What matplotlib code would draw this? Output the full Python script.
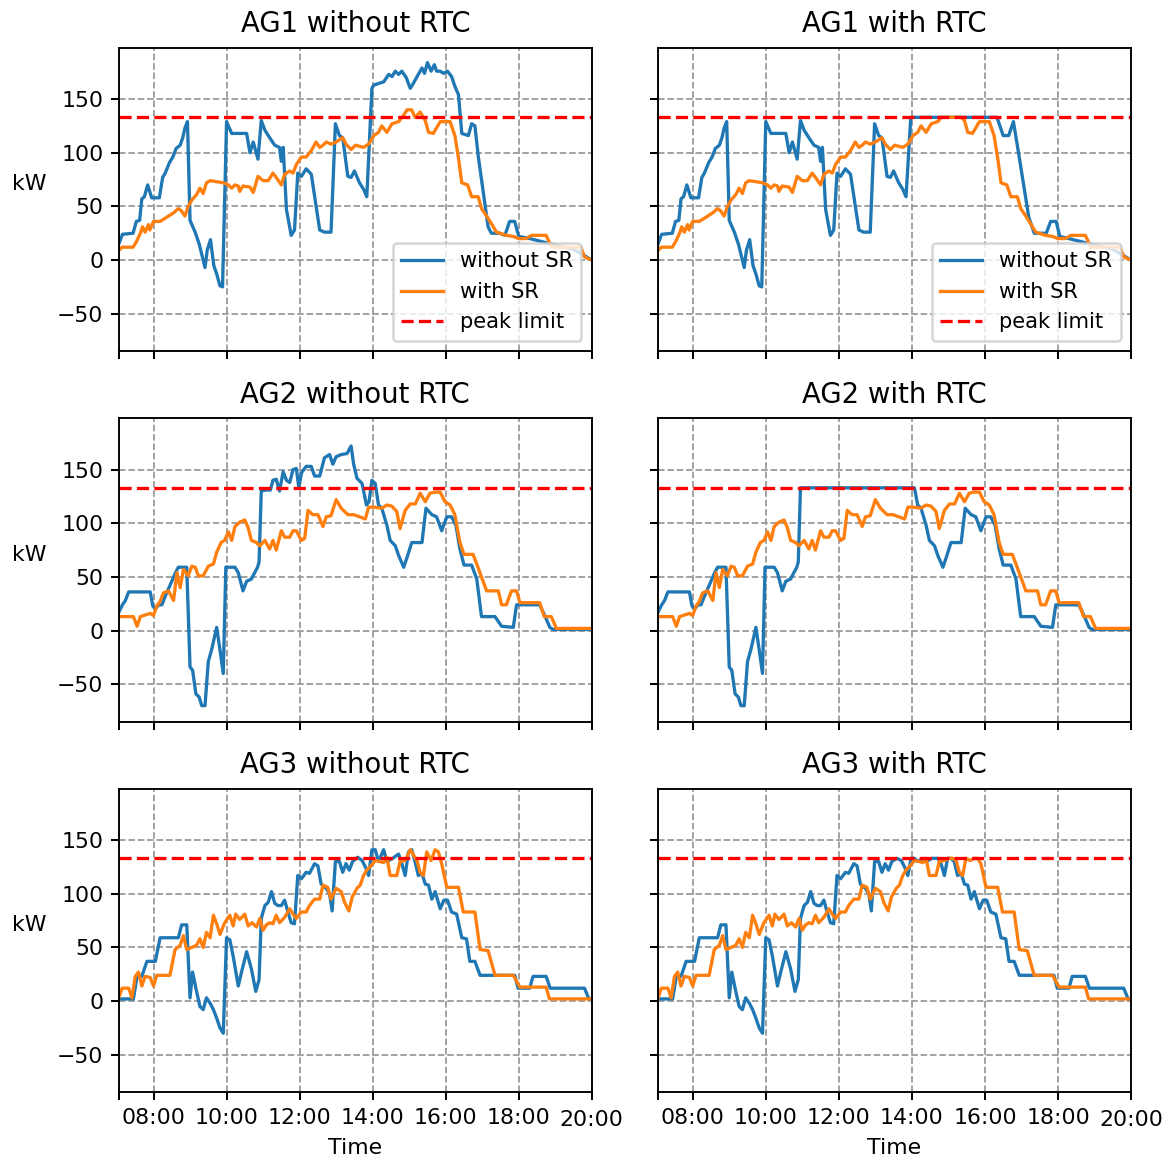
import numpy as np
import matplotlib
matplotlib.use("Agg")
import matplotlib.pyplot as plt

plt.rcParams["font.size"] = 8.7
plt.rcParams["axes.titlesize"] = 10.9
plt.rcParams["legend.fontsize"] = 8.3
plt.rcParams["lines.linewidth"] = 1.3
plt.rcParams["axes.linewidth"] = 0.75
plt.rcParams["xtick.major.size"] = 3.1
plt.rcParams["ytick.major.size"] = 3.1
plt.rcParams["xtick.major.pad"] = 3.0
plt.rcParams["ytick.major.pad"] = 3.0

# peak limit (kW)
peak_limit = 133

# ---- AG1 ---- (hour, kW) points
ag1_sr0_early = [(7.05, 15), (7.15, 24), (7.44, 25), (7.53, 36), (7.62, 37), (7.68, 57), (7.75, 59), (7.84, 70),
                 (7.95, 58), (8.16, 58), (8.25, 77), (8.32, 81), (8.44, 91), (8.53, 96), (8.62, 104), (8.73, 107),
                 (8.8, 114), (8.86, 123), (8.93, 129), (9.0, 37), (9.14, 26), (9.25, 15), (9.41, -7), (9.47, 9),
                 (9.56, 19), (9.65, -5), (9.73, -13), (9.82, -24), (9.89, -25), (10.0, 129), (10.14, 118),
                 (10.55, 118), (10.64, 100), (10.73, 110), (10.86, 94), (10.95, 130), (11.05, 121), (11.18, 114),
                 (11.32, 107), (11.45, 105), (11.5, 92), (11.55, 105), (11.64, 47), (11.77, 23), (11.86, 28),
                 (11.95, 81), (12.05, 78), (12.18, 85), (12.32, 80), (12.55, 28), (12.68, 26), (12.86, 26),
                 (12.98, 127), (13.09, 116), (13.18, 114), (13.32, 78), (13.41, 77), (13.5, 83), (13.64, 72),
                 (13.75, 66), (13.84, 59)]
ag1_sr0_late = [(13.98, 160), (14.03, 163), (14.2, 165), (14.3, 166), (14.44, 173), (14.53, 171), (14.62, 176),
                (14.71, 173), (14.8, 176), (14.92, 170), (15.03, 160), (15.12, 165), (15.25, 173), (15.35, 179),
                (15.42, 174), (15.5, 184), (15.6, 176), (15.69, 182), (15.75, 176), (15.85, 176), (15.94, 174),
                (16.05, 176), (16.16, 171), (16.25, 162), (16.35, 154), (16.44, 118), (16.62, 116), (16.71, 127),
                (16.8, 125), (16.89, 97), (16.98, 75), (17.07, 53), (17.16, 31), (17.25, 25), (17.48, 25),
                (17.62, 23), (17.75, 36), (17.89, 36), (18.0, 22), (18.3, 20), (19.0, 14), (19.5, 10), (20.0, 0)]
ag1_sr0_late_rtc = [(13.97, 133), (16.33, 133), (16.5, 116), (16.65, 116), (16.78, 129), (16.92, 100),
                    (17.2, 40), (17.35, 25), (17.68, 25), (17.8, 36), (17.95, 36), (18.05, 22), (18.3, 20),
                    (19.0, 14), (19.5, 10), (20.0, 0)]
ag1_sr1_early = [(7.05, 9), (7.14, 12), (7.44, 12), (7.53, 17), (7.64, 25), (7.7, 31), (7.77, 26), (7.86, 33),
                 (7.9, 28), (8.0, 36), (8.18, 36), (8.32, 39), (8.55, 44), (8.68, 48), (8.76, 46), (8.86, 41),
                 (8.95, 50), (9.05, 56), (9.18, 61), (9.27, 67), (9.36, 62), (9.45, 72), (9.55, 74), (9.91, 72),
                 (10.05, 70), (10.14, 67), (10.23, 70), (10.32, 69), (10.36, 64), (10.45, 69), (10.64, 68),
                 (10.73, 63), (10.86, 78), (11.0, 74), (11.14, 74), (11.27, 81), (11.36, 77), (11.5, 70),
                 (11.59, 80), (11.73, 83), (11.82, 81), (11.91, 89), (12.05, 96), (12.18, 96), (12.32, 102),
                 (12.45, 110), (12.55, 105), (12.64, 107), (12.73, 110), (12.86, 108), (13.0, 110), (13.18, 114),
                 (13.27, 108), (13.41, 103), (13.53, 107), (13.75, 105), (13.89, 108), (14.03, 116), (14.16, 119),
                 (14.25, 125), (14.39, 119), (14.53, 127), (14.71, 129)]
ag1_sr1_mid = [(14.85, 135), (14.94, 140), (15.07, 140), (15.16, 133), (15.3, 138), (15.44, 130)]
ag1_sr1_mid_rtc = [(14.8, 133), (15.35, 133), (15.44, 130)]
ag1_sr1_tail = [(15.53, 119), (15.66, 118), (15.85, 129), (16.12, 129), (16.25, 116), (16.35, 95), (16.44, 72),
                (16.6, 70), (16.71, 59), (16.89, 59), (16.98, 48), (17.1, 42), (17.25, 34), (17.39, 26),
                (17.66, 23), (17.85, 22), (18.0, 20), (18.2, 20), (18.35, 23), (18.75, 23), (18.9, 12),
                (19.7, 12), (19.8, 3), (20.0, 0)]

# ---- AG2 ----
ag2_sr0_early = [(7.05, 17), (7.15, 24), (7.23, 28), (7.32, 36), (7.91, 36), (7.98, 23), (8.05, 20), (8.14, 24),
                 (8.23, 24), (8.32, 32), (8.45, 42), (8.59, 53), (8.68, 59), (8.91, 59), (9.0, -34), (9.07, -37),
                 (9.16, -59), (9.25, -62), (9.32, -70), (9.41, -70), (9.5, -29), (9.59, -18), (9.73, 3),
                 (9.82, -18), (9.91, -40), (9.98, 59), (10.23, 59), (10.32, 54), (10.45, 37), (10.55, 46),
                 (10.68, 48), (10.77, 54), (10.85, 59), (10.89, 64)]
ag2_sr0_mid = [(10.95, 130), (11.09, 131), (11.2, 131), (11.27, 140), (11.36, 141), (11.45, 130), (11.55, 148),
               (11.64, 140), (11.73, 138), (11.82, 150), (11.91, 151), (11.98, 133), (12.05, 147), (12.18, 153),
               (12.32, 153), (12.41, 144), (12.55, 144), (12.68, 161), (12.82, 164), (12.91, 155), (13.0, 162),
               (13.14, 164), (13.3, 165), (13.41, 172), (13.48, 155), (13.57, 142), (13.71, 137), (13.83, 117),
               (13.9, 120), (13.98, 140), (14.07, 137)]
ag2_sr0_mid_rtc = [(10.95, 133), (14.07, 133)]
ag2_sr0_tail = [(14.16, 117), (14.25, 114), (14.39, 98), (14.48, 84), (14.62, 79), (14.71, 70), (14.85, 59),
                (14.94, 68), (15.07, 82), (15.35, 82), (15.46, 114), (15.62, 108), (15.75, 106), (15.89, 93),
                (16.03, 106), (16.16, 106), (16.28, 98), (16.39, 76), (16.5, 61), (16.71, 61), (16.85, 48),
                (16.98, 13), (17.35, 13), (17.53, 4), (17.85, 3), (17.94, 24), (18.57, 24), (18.7, 15),
                (18.85, 3), (18.94, 1), (20.0, 1)]
ag2_sr1 = [(7.05, 13), (7.45, 13), (7.55, 4), (7.64, 13), (7.91, 16), (8.0, 14), (8.09, 23), (8.18, 27),
           (8.27, 35), (8.41, 37), (8.55, 28), (8.64, 54), (8.73, 40), (8.82, 57), (8.95, 51), (9.05, 60),
           (9.14, 59), (9.23, 51), (9.36, 51), (9.5, 60), (9.64, 62), (9.73, 73), (9.85, 82), (9.95, 84),
           (10.05, 92), (10.14, 84), (10.23, 97), (10.36, 101), (10.5, 103), (10.59, 96), (10.68, 84),
           (10.82, 82), (10.91, 79), (11.05, 84), (11.18, 76), (11.27, 84), (11.36, 75), (11.5, 93), (11.59, 87),
           (11.73, 87), (11.82, 93), (11.91, 93), (12.05, 84), (12.14, 86), (12.23, 112), (12.36, 108),
           (12.5, 108), (12.64, 97), (12.73, 106), (12.86, 107), (13.0, 122), (13.14, 114), (13.32, 108),
           (13.48, 108), (13.8, 104), (13.89, 115), (14.03, 115), (14.25, 114), (14.39, 117), (14.52, 116),
           (14.66, 111), (14.75, 95), (14.89, 112), (15.03, 118), (15.17, 118), (15.3, 128), (15.44, 120),
           (15.57, 128), (15.71, 129), (15.85, 129), (15.98, 120), (16.12, 117), (16.25, 108), (16.39, 82),
           (16.5, 71), (16.75, 71), (16.85, 62), (16.98, 50), (17.12, 37), (17.44, 37), (17.53, 24), (17.66, 24),
           (17.8, 37), (17.94, 37), (18.03, 26), (18.57, 26), (18.7, 13), (18.89, 13), (19.03, 2), (20.0, 2)]

# ---- AG3 ----
ag3_sr0_early = [(7.05, 2), (7.45, 2), (7.55, 23), (7.68, 23), (7.82, 37), (8.05, 37), (8.18, 59), (8.68, 59),
                 (8.77, 71), (8.91, 71), (9.0, 3), (9.07, 27), (9.16, 12), (9.27, -5), (9.36, -8), (9.45, 3),
                 (9.55, -2), (9.64, -8), (9.73, -16), (9.82, -25), (9.91, -30), (10.0, 59), (10.09, 57),
                 (10.18, 42), (10.32, 14), (10.41, 27), (10.55, 46), (10.68, 30), (10.8, 9), (10.89, 20),
                 (10.95, 77), (11.05, 89), (11.14, 92), (11.23, 102), (11.32, 91), (11.41, 89), (11.5, 89),
                 (11.59, 94), (11.68, 83), (11.77, 73), (11.86, 72), (11.95, 117), (12.05, 114), (12.18, 120),
                 (12.27, 119), (12.41, 128), (12.5, 126), (12.59, 109), (12.73, 105), (12.82, 100), (12.89, 84),
                 (12.98, 130), (13.09, 130), (13.18, 120), (13.27, 128), (13.36, 122), (13.45, 130)]
ag3_sr0_mid = [(13.59, 134), (13.71, 131), (13.8, 125), (13.89, 117), (13.98, 141), (14.07, 141), (14.16, 130),
               (14.3, 141), (14.39, 130), (14.55, 133), (14.71, 137), (14.8, 128), (14.89, 117), (14.98, 139),
               (15.07, 141), (15.16, 130), (15.25, 117)]
ag3_sr0_mid_rtc = [(13.59, 133), (13.71, 131), (13.8, 125), (13.89, 117), (13.98, 133), (14.07, 133),
                   (14.16, 130), (14.3, 133), (14.39, 130), (14.55, 133), (14.71, 133), (14.8, 128), (14.89, 117),
                   (14.98, 133), (15.07, 133), (15.16, 130), (15.25, 117)]
ag3_sr0_tail = [(15.35, 119), (15.44, 109), (15.53, 108), (15.62, 95), (15.71, 102), (15.85, 86), (15.95, 94),
                (16.05, 94), (16.16, 83), (16.3, 81), (16.44, 59), (16.57, 58), (16.66, 37), (16.8, 37),
                (16.94, 24), (17.89, 24), (17.98, 12), (18.3, 12), (18.39, 23), (18.75, 23), (18.86, 12),
                (19.8, 12), (19.92, 2), (20.0, 2)]
ag3_sr1_early = [(7.05, 3), (7.14, 12), (7.32, 12), (7.41, 3), (7.5, 23), (7.59, 27), (7.68, 14), (7.77, 23),
                 (7.91, 22), (8.0, 14), (8.09, 24), (8.45, 24), (8.59, 48), (8.73, 52), (8.82, 61), (8.91, 48),
                 (9.05, 50), (9.18, 52), (9.27, 58), (9.36, 50), (9.45, 64), (9.55, 59), (9.64, 80), (9.73, 72),
                 (9.82, 62), (9.95, 73), (10.09, 80), (10.18, 70), (10.25, 81), (10.36, 76), (10.5, 81),
                 (10.59, 70), (10.7, 73), (10.82, 69), (10.91, 77), (11.0, 66), (11.09, 71), (11.18, 73),
                 (11.27, 72), (11.36, 80), (11.45, 73), (11.59, 78), (11.73, 86), (11.82, 81), (11.91, 77),
                 (12.05, 83), (12.18, 83), (12.27, 89), (12.41, 95), (12.55, 95), (12.64, 108), (12.77, 106),
                 (12.86, 95), (13.0, 105), (13.14, 102), (13.23, 92), (13.35, 84), (13.44, 97), (13.57, 105),
                 (13.66, 108), (13.75, 117), (13.84, 122), (13.98, 127), (14.07, 131), (14.2, 130), (14.3, 129)]
ag3_sr1_mid = [(14.39, 134), (14.48, 117), (14.66, 117), (14.75, 130), (14.89, 131), (15.03, 141), (15.12, 136),
               (15.21, 131), (15.3, 120), (15.39, 117), (15.48, 139), (15.6, 131), (15.71, 141), (15.8, 139),
               (15.89, 128)]
ag3_sr1_mid_rtc = [(14.39, 133), (14.48, 117), (14.66, 117), (14.75, 130), (14.89, 131), (15.03, 133),
                   (15.12, 133), (15.21, 131), (15.3, 120), (15.39, 117), (15.48, 133), (15.6, 131), (15.71, 133),
                   (15.8, 133), (15.89, 128)]
ag3_sr1_tail = [(16.03, 106), (16.35, 106), (16.48, 83), (16.8, 83), (16.94, 48), (17.16, 47), (17.35, 24),
                (17.85, 24), (18.03, 13), (18.75, 13), (18.84, 2), (20.0, 2)]

panels = [
    ("AG1 without RTC", ag1_sr0_early + ag1_sr0_late, ag1_sr1_early + ag1_sr1_mid + ag1_sr1_tail),
    ("AG1 with RTC", ag1_sr0_early + ag1_sr0_late_rtc, ag1_sr1_early + ag1_sr1_mid_rtc + ag1_sr1_tail),
    ("AG2 without RTC", ag2_sr0_early + ag2_sr0_mid + ag2_sr0_tail, ag2_sr1),
    ("AG2 with RTC", ag2_sr0_early + ag2_sr0_mid_rtc + ag2_sr0_tail, ag2_sr1),
    ("AG3 without RTC", ag3_sr0_early + ag3_sr0_mid + ag3_sr0_tail, ag3_sr1_early + ag3_sr1_mid + ag3_sr1_tail),
    ("AG3 with RTC", ag3_sr0_early + ag3_sr0_mid_rtc + ag3_sr0_tail,
     ag3_sr1_early + ag3_sr1_mid_rtc + ag3_sr1_tail),
]

tick_pos = [7.05, 8, 10, 12, 14, 16, 18, 20]
tick_lab = ["", "08:00", "10:00", "12:00", "14:00", "16:00", "18:00", ""]

fig = plt.figure(figsize=(6.4, 6.385), dpi=182)
axes = fig.subplots(3, 2, sharex=True, sharey=True)
fig.subplots_adjust(left=0.102, right=0.971, top=0.959, bottom=0.060, wspace=0.14, hspace=0.22)

for i, (title, sr0, sr1) in enumerate(panels):
    ax = axes[i // 2, i % 2]
    t0, v0 = zip(*sr0)
    t1, v1 = zip(*sr1)
    ax.plot(t0, v0, label="without SR")
    ax.plot(t1, v1, label="with SR")
    ax.axhline(peak_limit, color="r", linestyle="--", label="peak limit")
    ax.set_title(title)
    ax.grid(linestyle="--", color="#999999", linewidth=0.7)
    if i < 2:
        ax.legend(loc="lower right")
    if i % 2 == 0:
        ax.set_ylabel("kW", rotation=0, va="center", ha="center")
        ax.yaxis.set_label_coords(-0.19, 0.55)
    if i >= 4:
        ax.set_xlabel("Time")
        ax.annotate("20:00", xy=(20, 0), xycoords=("data", "axes fraction"),
                    xytext=(0, -7), textcoords="offset points", ha="center", va="top")

ax = axes[0, 0]
ax.set_xticks(tick_pos, tick_lab)
ax.set_yticks([-50, 0, 50, 100, 150])
ax.set_xlim(7.05, 20.0)
ax.set_ylim(-85, 198)

fig.savefig("out.png", dpi=182)
